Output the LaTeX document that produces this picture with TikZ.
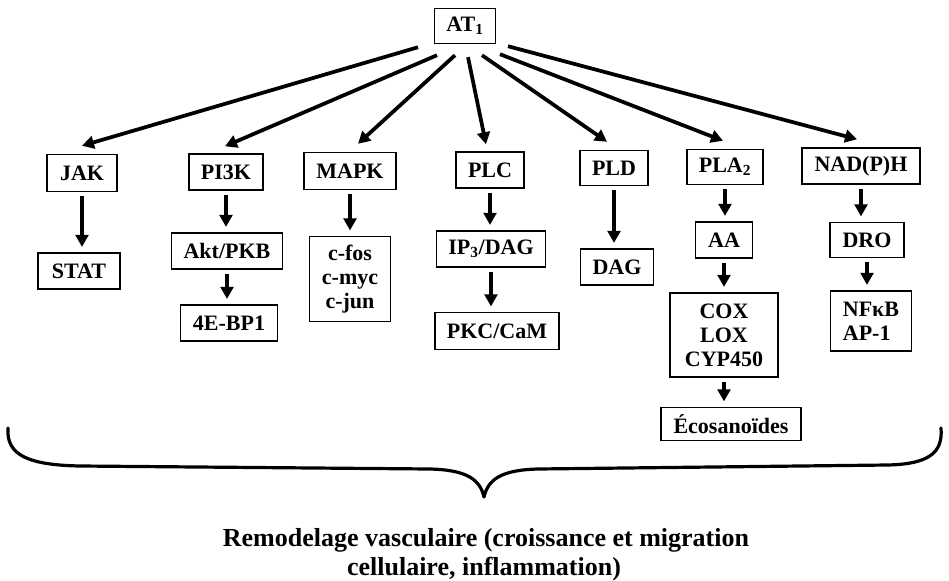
\documentclass[tikz,border=0pt]{standalone}
\usepackage{fontspec}
\setmainfont{Liberation Serif}
\usetikzlibrary{arrows.meta,calc}
\begin{document}
\begin{tikzpicture}[x=0.75pt,y=-0.75pt,
  bx/.style={draw, line width=1.1pt, font=\bfseries\fontsize{16.5}{18}\selectfont, align=center, inner sep=0pt},
  sz/.style 2 args={minimum width=#1*0.75pt, minimum height=#2*0.75pt},
  arr/.style={line width=2.8pt, -{Triangle[length=9pt,width=9.5pt]}},
  varr/.style={arr, shorten <=3pt, shorten >=4pt},
  caption/.style={font=\bfseries\fontsize{19.5}{22}\selectfont, anchor=base, inner sep=0pt}]
\useasboundingbox (0,0) rectangle (949,581);
\node[bx, sz={61}{35}] (at1) at (465,26) {AT\textsubscript{1}};
\node[bx, sz={70}{37}] (jak) at (82,173) {JAK};
\node[bx, sz={82}{36}] (stat) at (79,271) {STAT};
\node[bx, sz={74}{36}] (pi3k) at (226,172) {PI3K};
\node[bx, sz={111}{36}] (akt) at (227,251) {Akt/PKB};
\node[bx, sz={97}{36}] (ebp) at (229,323) {4E-BP1};
\node[bx, sz={92}{37}] (mapk) at (350,171) {MAPK};
\node[bx, sz={81}{85}] (cfos) at (350,279) {c-fos\\c-myc\\c-jun};
\node[bx, sz={68}{36}] (plc) at (490,170) {PLC};
\node[bx, sz={109}{36}] (ip3) at (491,249) {IP\textsubscript{3}/DAG};
\node[bx, sz={124}{37}] (pkc) at (497,331) {PKC/CaM};
\node[bx, sz={68}{35}] (pld) at (614,168) {PLD};
\node[bx, sz={73}{36}] (dag) at (617,267) {DAG};
\node[bx, sz={76}{35}] (pla) at (725,167) {PLA\textsubscript{2}};
\node[bx, sz={57}{36}] (aa) at (724,240) {AA};
\node[bx, sz={108}{84}] (cox) at (724,335) {COX\\LOX\\CYP450};
\node[bx, sz={140}{33}] (eco) at (731,424) {Écosanoïdes};
\node[bx, sz={118}{36}] (nad) at (861,166) {NAD(P)H};
\node[bx, sz={74}{35}] (dro) at (867,240) {DRO};
\node[bx, sz={81}{60}, align=left] (nfkb) at (871,321) {NFκB\\AP-1};
% fan-out arrows
\draw[arr] ($(at1.south)+(-47,3)$) -- ($(jak.north)+(0,-8)$);
\draw[arr] ($(at1.south)+(-28,11)$) -- ($(pi3k.north)+(-1,-7)$);
\draw[arr] ($(at1.south)+(-10,11)$) -- ($(mapk.north)+(8,-8)$);
\draw[arr] ($(at1.south)+(3,13)$) -- ($(plc.north)+(-4,-7)$);
\draw[arr] ($(at1.south)+(17,11)$) -- ($(pld.north)+(-7,-8)$);
\draw[arr] ($(at1.south)+(35,10)$) -- ($(pla.north)+(-2,-8)$);
\draw[arr] ($(at1.south)+(43,2)$) -- ($(nad.north)+(-4,-8)$);
% vertical arrows
\draw[varr] (jak.south) -- (jak.south |- stat.north);
\draw[varr] (pi3k.south) -- (pi3k.south |- akt.north);
\draw[varr] (akt.south) -- (akt.south |- ebp.north);
\draw[varr] (mapk.south) -- (mapk.south |- cfos.north);
\draw[varr] (plc.south) -- (plc.south |- ip3.north);
\draw[varr] (ip3.south) -- (ip3.south |- pkc.north);
\draw[varr] (pld.south) -- (pld.south |- dag.north);
\draw[varr] (pla.south) -- (pla.south |- aa.north);
\draw[varr] (aa.south) -- (aa.south |- cox.north);
\draw[varr] (cox.south) -- (cox.south |- eco.north);
\draw[varr] (nad.south) -- (nad.south |- dro.north);
\draw[varr] (dro.south) -- (dro.south |- nfkb.north);
% brace
\draw[line width=2.4pt, line cap=round, line join=round]
  (8,428) .. controls (6,455) and (28,465) .. (80,466)
  -- (430,469) .. controls (468,470) and (480,480) .. (484,497)
  .. controls (488,480) and (500,470) .. (538,469)
  -- (888,465) .. controls (930,464) and (943,452) .. (941,428);
\node[caption] (txt1) at (486,546) {Remodelage vasculaire (croissance et migration};
\node[caption] (txt2) at (484,575) {cellulaire, inflammation)};
\end{tikzpicture}
\end{document}
